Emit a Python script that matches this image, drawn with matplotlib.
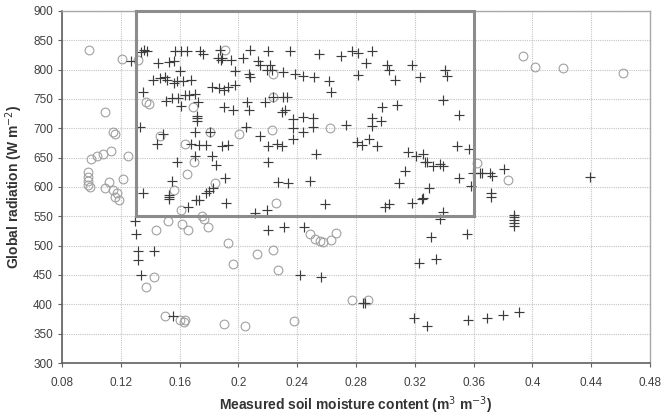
import matplotlib
matplotlib.use("Agg")
import matplotlib.pyplot as plt
from matplotlib.ticker import FuncFormatter, MultipleLocator
from matplotlib.patches import Rectangle

plt.rcParams['font.family'] = ['Liberation Sans', 'DejaVu Sans']

# crosses (+)
cruz_x = [0.134, 0.136, 0.138, 0.1267, 0.157, 0.161, 0.165, 0.174, 0.176, 0.1876, 0.189,
          0.186, 0.188, 0.195, 0.203, 0.208, 0.22, 0.213, 0.215, 0.145, 0.153, 0.156, 0.16,
          0.198, 0.207, 0.208, 0.142, 0.1466, 0.15, 0.1516, 0.156, 0.158, 0.162, 0.168,
          0.135, 0.182, 0.187, 0.19, 0.193, 0.198, 0.2056, 0.207, 0.1965, 0.19,
          0.1507, 0.1546, 0.159, 0.1636, 0.1666, 0.1705, 0.1727, 0.1607, 0.218,
          0.1716, 0.1716, 0.1716, 0.133, 0.1705, 0.1485, 0.1444, 0.168, 0.173, 0.178,
          0.189, 0.193, 0.205, 0.215, 0.22, 0.226, 0.1705, 0.182, 0.185, 0.158, 0.22,
          0.1546, 0.191, 0.183, 0.18, 0.178, 0.135, 0.153, 0.227, 0.181,
          # lower left
          0.153, 0.1527, 0.166, 0.171, 0.173, 0.1915, 0.211, 0.2196, 0.22, 0.1297, 0.13,
          0.1315, 0.1426, 0.1315, 0.1337, 0.1557,
          # centre
          0.235, 0.255, 0.2696, 0.277, 0.281, 0.2906, 0.2867, 0.3008, 0.3026, 0.3178,
          0.3404, 0.3416, 0.2214, 0.2226, 0.2196, 0.2305, 0.2384, 0.244, 0.2514,
          0.2618, 0.2627, 0.2815, 0.3064, 0.3234, 0.2237, 0.2305, 0.2328, 0.2295, 0.2317,
          0.339, 0.298, 0.308, 0.35, 0.2369, 0.244, 0.251, 0.2906, 0.2967, 0.2906,
          0.237, 0.244, 0.251, 0.273, 0.237, 0.2295, 0.2805, 0.2839, 0.289, 0.294,
          0.2527, 0.3155, 0.3211, 0.3257, 0.3268, 0.328, 0.3325, 0.337, 0.339,
          0.3484, 0.357, 0.3132, 0.35, 0.3597, 0.358, 0.234, 0.2487, 0.309, 0.3298, 0.3253,
          # centre low
          0.2588, 0.2996, 0.3026, 0.3178, 0.325, 0.3389, 0.337, 0.231, 0.2446, 0.3307,
          0.3556, 0.323, 0.3344, 0.2418, 0.2562, 0.285, 0.286, 0.3194, 0.328, 0.3563,
          # right
          0.3643, 0.366, 0.371, 0.3726, 0.3806, 0.439, 0.372, 0.372,
          0.3874, 0.3874, 0.3874, 0.3874, 0.3874, 0.3688, 0.38, 0.391]
cruz_y = [830, 833, 831, 815, 832, 832, 832, 832, 826, 833, 820,
          819, 816, 817, 819, 833, 832, 815, 808, 811, 813, 815, 798,
          798, 792, 788, 782, 785, 787, 783, 778, 780, 781, 783,
          762, 770, 768, 766, 770, 773, 744, 732, 732, 736,
          747, 752, 752, 756, 757, 759, 745, 738, 745,
          721, 717, 713, 703, 694, 691, 673, 674, 672, 672,
          670, 672, 703, 686, 670, 674, 653, 653, 637, 642, 642,
          610, 615, 598, 593, 590, 590, 586, 609, 694,
          583, 580, 566, 578, 578, 572, 555, 561, 527, 542, 520,
          491, 491, 475, 450, 380,
          832, 827, 823, 832, 829, 831, 812, 808, 800, 808,
          799, 789, 808, 799, 799, 796, 793, 789, 787,
          780, 762, 791, 782, 787, 753, 753, 753, 728, 731,
          748, 736, 740, 723, 715, 719, 717, 717, 713, 704,
          700, 694, 703, 706, 681, 669, 676, 672, 681, 669,
          657, 660, 653, 656, 643, 643, 635, 639, 635,
          669, 664, 628, 616, 623, 602, 606, 611, 606, 598, 581,
          571, 566, 571, 573, 579, 558, 545, 532, 532, 514,
          520, 470, 477, 450, 447, 403, 402, 376, 363, 373,
          624, 623, 624, 618, 630, 617, 589, 583,
          552, 548, 544, 539, 533, 376, 382, 387]

# circles (o)
circ_x = [0.0986, 0.1206, 0.1092, 0.1149, 0.116, 0.125, 0.1, 0.1036, 0.108, 0.113,
          0.098, 0.098, 0.098, 0.098, 0.112, 0.1217, 0.115, 0.1175, 0.137, 0.139,
          0.169, 0.1637, 0.1466, 0.181, 0.2006, 0.223, 0.1648, 0.17, 0.184, 0.2237,
          0.1908, 0.132,
          0.099, 0.109, 0.116, 0.119, 0.156, 0.161, 0.152, 0.1614, 0.166, 0.175, 0.1766,
          0.1795, 0.144, 0.193, 0.1965, 0.2124, 0.2237, 0.227, 0.1426, 0.137, 0.15,
          0.16, 0.1636, 0.163, 0.19, 0.2045,
          0.2237, 0.2622,
          0.2487, 0.252, 0.2555, 0.2578, 0.2628, 0.2664, 0.2255, 0.277, 0.2884, 0.2378,
          0.3938, 0.4016, 0.421, 0.4613, 0.362, 0.3835]
circ_y = [833, 818, 727, 694, 690, 652, 647, 652, 656, 662,
          626, 617, 611, 603, 609, 614, 595, 589, 745, 742,
          736, 674, 687, 694, 690, 697, 622, 643, 607, 792,
          833, 816,
          600, 599, 583, 578, 595, 561, 542, 537, 527, 550, 545,
          532, 527, 504, 469, 486, 492, 458, 447, 430, 380,
          374, 373, 370, 367, 363,
          754, 700,
          520, 512, 508, 507, 510, 521, 572, 408, 408, 372,
          823, 804, 802, 795, 641, 612]

fig = plt.figure(figsize=(6.64, 4.2), dpi=100)
ax = fig.add_axes([0.0934, 0.1357, 0.8856, 0.8383])

ax.plot(circ_x, circ_y, linestyle='none', marker='o', markersize=6.3,
        markerfacecolor='none', markeredgecolor='#a0a0a0', markeredgewidth=0.8)
ax.plot(cruz_x, cruz_y, linestyle='none', marker='+', markersize=6.5,
        color='#3c3c3c', markeredgewidth=0.85)

# rectangle
ax.add_patch(Rectangle((0.13, 550), 0.23, 350, fill=False,
                       edgecolor='#8c8c8c', linewidth=2.2, zorder=3, clip_on=False))

ax.set_xlim(0.08, 0.48)
ax.set_ylim(300, 900)
ax.xaxis.set_major_locator(MultipleLocator(0.04))
ax.yaxis.set_major_locator(MultipleLocator(50))
ax.xaxis.set_major_formatter(FuncFormatter(lambda v, p: f"{v:g}"))
ax.grid(True, color='#c4c4c4', linestyle=(0, (1, 1)), linewidth=0.8)
ax.set_axisbelow(True)

for s in ['left', 'bottom']:
    ax.spines[s].set_color('#606060')
    ax.spines[s].set_linewidth(1.2)
for s in ['top', 'right']:
    ax.spines[s].set_color('#a8a8a8')
    ax.spines[s].set_linewidth(1.0)

ax.tick_params(axis='both', labelsize=8.5, labelcolor='#404040', color='#606060',
               length=3, direction='out')
ax.tick_params(axis='x', pad=7)

ax.set_xlabel("Measured soil moisture content (m$^3$ m$^{-3}$)", fontsize=10,
              fontweight='bold', color='#333333', labelpad=4)
ax.set_ylabel("Global radiation (W m$^{-2}$)", fontsize=10, fontweight='bold',
              color='#333333', labelpad=6)

fig.savefig("out.png", dpi=100)
